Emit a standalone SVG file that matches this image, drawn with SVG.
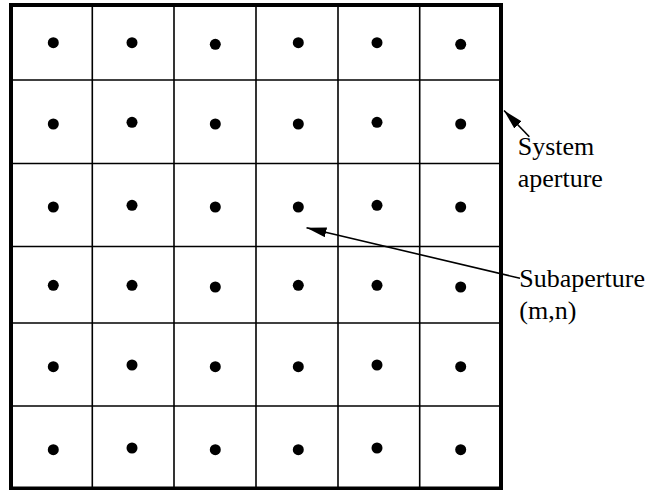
<svg xmlns="http://www.w3.org/2000/svg" width="648" height="490" viewBox="0 0 648 490">
<style>
.grid{stroke:#000;stroke-width:1.6;fill:none}
.border{stroke:#000;stroke-width:4;fill:none}
.dot{fill:#000}
.conn{stroke:#000;stroke-width:1.6;fill:none}
.lbl{font-family:"Liberation Serif","Times New Roman",serif;font-size:26px;fill:#000}
</style>
<defs>
<marker id="ah" markerUnits="userSpaceOnUse" viewBox="0 0 20 10" markerWidth="20" markerHeight="10" refX="20" refY="5" orient="auto">
<path d="M0,0 L20,5 L0,10 z" fill="#000"/>
</marker>
</defs>
<rect width="648" height="490" fill="#fff"/>
<g id="system-aperture">
<g class="grid">
<line x1="92.3" y1="5" x2="92.3" y2="488.5"/>
<line x1="174" y1="5" x2="174" y2="488.5"/>
<line x1="256" y1="5" x2="256" y2="488.5"/>
<line x1="338" y1="5" x2="338" y2="488.5"/>
<line x1="419.7" y1="5" x2="419.7" y2="488.5"/>
<line x1="11" y1="80" x2="501" y2="80"/>
<line x1="11" y1="163.5" x2="501" y2="163.5"/>
<line x1="11" y1="246.5" x2="501" y2="246.5"/>
<line x1="11" y1="323" x2="501" y2="323"/>
<line x1="11" y1="406" x2="501" y2="406"/>
</g>
<rect class="border" x="11" y="5" width="490" height="483.5"/>
</g>
<g id="subapertures" class="dot">
<circle cx="53.3" cy="42.7" r="5.5"/><circle cx="132" cy="42.7" r="5.5"/><circle cx="215.3" cy="44.3" r="5.5"/><circle cx="298.3" cy="42.7" r="5.5"/><circle cx="377" cy="42.7" r="5.5"/><circle cx="460.7" cy="44.3" r="5.5"/>
<circle cx="53.3" cy="124" r="5.5"/><circle cx="132" cy="122.3" r="5.5"/><circle cx="215.3" cy="124" r="5.5"/><circle cx="298.3" cy="124" r="5.5"/><circle cx="377" cy="122.3" r="5.5"/><circle cx="460.7" cy="124" r="5.5"/>
<circle cx="53.3" cy="207" r="5.5"/><circle cx="132" cy="205.3" r="5.5"/><circle cx="215.3" cy="207" r="5.5"/><circle id="subaperture-mn" cx="298.3" cy="207" r="5.5"/><circle cx="377" cy="205.3" r="5.5"/><circle cx="460.7" cy="207" r="5.5"/>
<circle cx="53.3" cy="285.3" r="5.5"/><circle cx="132" cy="285.3" r="5.5"/><circle cx="215.3" cy="287" r="5.5"/><circle cx="298.3" cy="285.3" r="5.5"/><circle cx="377" cy="285.3" r="5.5"/><circle cx="460.7" cy="287" r="5.5"/>
<circle cx="53.3" cy="366.7" r="5.5"/><circle cx="132" cy="365" r="5.5"/><circle cx="215.3" cy="366.7" r="5.5"/><circle cx="298.3" cy="366.7" r="5.5"/><circle cx="377" cy="365" r="5.5"/><circle cx="460.7" cy="366.7" r="5.5"/>
<circle cx="53.3" cy="449.7" r="5.5"/><circle cx="132" cy="448" r="5.5"/><circle cx="215.3" cy="449.7" r="5.5"/><circle cx="298.3" cy="449.7" r="5.5"/><circle cx="377" cy="448" r="5.5"/><circle cx="460.7" cy="449.7" r="5.5"/>
</g>
<g id="connectors">
<line class="conn" x1="529.3" y1="136.7" x2="504" y2="110.5" marker-end="url(#ah)"/>
<line class="conn" x1="520" y1="278.3" x2="306.5" y2="227.7" marker-end="url(#ah)"/>
</g>
<g id="label-system">
<text class="lbl" x="517.7" y="155">System</text>
<text class="lbl" x="517.7" y="187.3">aperture</text>
</g>
<g id="label-subaperture">
<text class="lbl" x="519.3" y="286.7">Subaperture</text>
<text class="lbl" x="519.3" y="318.5">(m,n)</text>
</g>
</svg>
